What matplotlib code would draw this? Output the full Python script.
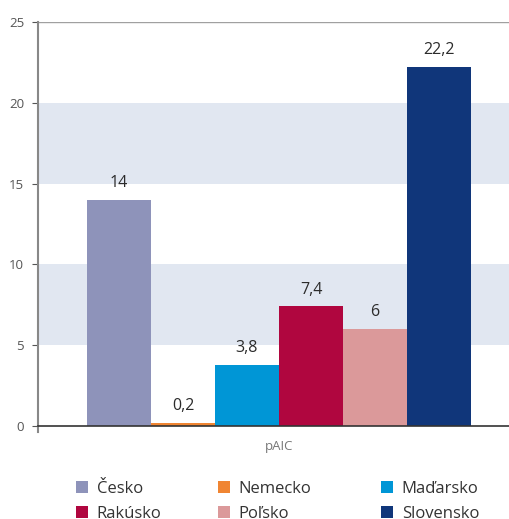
import matplotlib
matplotlib.use("Agg")
import matplotlib.pyplot as plt
from matplotlib.patches import Patch
import numpy as np

plt.rcParams['font.family'] = ['Open Sans', 'DejaVu Sans']

countries = ["Česko", "Nemecko", "Maďarsko", "Rakúsko", "Poľsko", "Slovensko"]
values = [14, 0.2, 3.8, 7.4, 6, 22.2]
value_labels = ["14", "0,2", "3,8", "7,4", "6", "22,2"]
colors = ["#8E93BA", "#F08532", "#0096D6", "#B0063F", "#DB999A", "#10367A"]
category = "pAIC"
yticks = [0, 5, 10, 15, 20, 25]

fig = plt.figure(figsize=(5.10, 5.19), dpi=100)
ax = fig.add_axes([38/510, 93/519, 472/510, 404/519])

# bands
for lo, hi in [(5, 10), (15, 20)]:
    ax.axhspan(lo, hi, color="#E1E7F1", lw=0, zorder=0)
ax.axhline(25, color="#A0A0A0", lw=1, zorder=1)

x = np.arange(len(countries))
bars = ax.bar(x, values, width=1.0, color=colors, zorder=2)
for xi, v, lab in zip(x, values, value_labels):
    ax.text(xi, v + 0.55, lab, ha="center", va="bottom", fontsize=11.5, color="#2b2b2b")

ax.set_xlim(-1.266, 6.11)
ax.set_ylim(0, 25)
ax.set_yticks(yticks)
ax.set_yticklabels([str(t) for t in yticks], fontsize=9.5, color="#555555")
ax.tick_params(axis="y", length=4, color="#555555", pad=6)
ax.set_xticks([2.5])
ax.set_xticklabels([category], fontsize=9.5, color="#777777")
ax.tick_params(axis="x", length=0, pad=10)

for s in ["top", "right"]:
    ax.spines[s].set_visible(False)
ax.spines["left"].set_color("#888888")
ax.spines["left"].set_linewidth(1.5)
ax.spines["left"].set_bounds(-0.4, 25)
ax.spines["bottom"].set_color("#333333")
ax.spines["bottom"].set_linewidth(1.2)

# legend: three columns placed individually
col_x = [76/510, 218/510, 381/510]
for c in range(3):
    idx = [c, c + 3]
    handles = [Patch(facecolor=colors[i], edgecolor="none") for i in idx]
    labels = [countries[i] for i in idx]
    fig.legend(handles, labels, loc="upper left", bbox_to_anchor=(col_x[c], 38/519),
               frameon=False, fontsize=12, handlelength=0.7, handleheight=0.7,
               handletextpad=0.55, labelspacing=0.55, borderpad=0, borderaxespad=0,
               labelcolor="#333333")

fig.savefig("out.png", dpi=100)
